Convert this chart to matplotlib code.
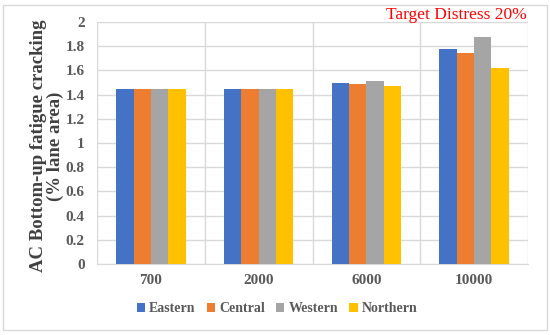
import numpy as np
import matplotlib.pyplot as plt
from matplotlib.patches import Rectangle

# traffic levels and cracking per region
categories = ["700", "2000", "6000", "10000"]
eastern = [1.45, 1.45, 1.50, 1.78]
central = [1.45, 1.45, 1.49, 1.74]
western = [1.45, 1.45, 1.51, 1.88]
northern = [1.45, 1.45, 1.47, 1.62]
series = ["Eastern", "Central", "Western", "Northern"]
colors = ["#4472C4", "#ED7D31", "#A5A5A5", "#FFC000"]

plt.rcParams["font.family"] = ["Liberation Serif", "DejaVu Serif"]

fig = plt.figure(figsize=(5.5, 3.35), dpi=100)
ax = fig.add_axes([97 / 550, 1 - 264 / 335, 431 / 550, 242 / 335])

x = np.arange(len(categories))
w = 0.161
for i, (name, vals, c) in enumerate(zip(series, [eastern, central, western, northern], colors)):
    ax.bar(x + (i - 1.5) * w, vals, w, color=c, label=name, zorder=3)

ax.set_xlim(-0.5, len(categories) - 0.5)
ax.set_ylim(0, 2)
ax.set_yticks(np.arange(0, 2.01, 0.2))
ax.set_yticklabels(["0", "0.2", "0.4", "0.6", "0.8", "1", "1.2", "1.4", "1.6", "1.8", "2"])
ax.set_xticks(x)
ax.set_xticklabels(categories)
ax.set_xticks(np.arange(-0.5, len(categories), 1), minor=True)
ax.grid(axis="y", color="#D9D9D9", linewidth=1, zorder=0)
ax.grid(axis="x", which="minor", color="#D9D9D9", linewidth=1, zorder=0)
ax.tick_params(which="both", length=0)
ax.tick_params(axis="y", pad=9)
ax.tick_params(axis="x", pad=7)
for lab in ax.get_xticklabels() + ax.get_yticklabels():
    lab.set_fontweight("bold")
    lab.set_fontsize(11)
    lab.set_color("#595959")
for s in ["top", "right", "left"]:
    ax.spines[s].set_visible(False)
ax.spines["bottom"].set_color("#D9D9D9")

fig.text(47 / 550, 1 - 146 / 335, "AC Bottom-up fatigue cracking\n(% lane area)", fontsize=13.5,
         fontweight="bold", color="#404040", linespacing=1.05, rotation=90,
         ha="center", va="center", multialignment="center")

ax.legend(loc="center", bbox_to_anchor=((277 - 97) / 431, (264 - 309) / 242), ncol=4, frameon=False,
          prop={"weight": "bold", "size": 10}, handlelength=0.6, handleheight=0.6,
          handletextpad=0.3, columnspacing=0.8, labelcolor="#595959")

fig.text(527 / 550, 1 - 15 / 335, "Target Distress 20%", color="red", fontsize=12.5,
         ha="right", va="center")

fig.patches.append(Rectangle((3 / 550, 5 / 335), 544 / 550, 325 / 335, transform=fig.transFigure,
                             fill=False, edgecolor="#D9D9D9", linewidth=1))

fig.savefig("out.png", dpi=100)
